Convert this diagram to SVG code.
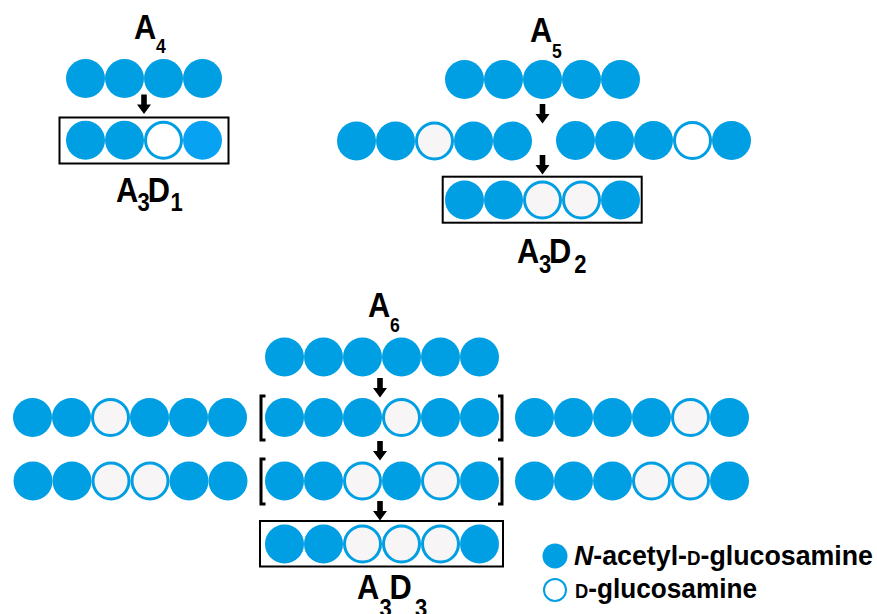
<svg xmlns="http://www.w3.org/2000/svg" width="877" height="614" viewBox="0 0 877 614">
<style>
.f{fill:#009FE3}
.b{fill:#08A2F2}
.o{fill:#F7F5F5;stroke:#009FE3;stroke-width:3}
.w{fill:#FFFFFF;stroke:#009FE3;stroke-width:3}
.box{fill:none;stroke:#000;stroke-width:2}
.br{fill:none;stroke:#000;stroke-width:3}
.lab{font-family:"Liberation Sans",Arial,sans-serif;font-size:35px;font-weight:bold;fill:#000}
.s1{font-size:20px}
.s2{font-size:25px}
.leg{font-family:"Liberation Sans",Arial,sans-serif;font-size:28.5px;font-weight:bold;fill:#000}
.arr{fill:#000}
</style>
<defs>
<path id="arrow" d="M-2.8,0 h5.6 v10 h4.2 l-7,9.5 l-7,-9.5 h4.2 z"/>
</defs>
<rect width="877" height="614" fill="#fff"/>

<!-- A4 -->
<g id="label-A4"><text class="lab" transform="translate(134,38.5) scale(0.88,1)">A<tspan class="s1" x="25" y="14.5">4</tspan></text></g>
<g id="chain-A4">
<circle class="f" cx="85.5" cy="78.5" r="19.5"/><circle class="f" cx="124.5" cy="78.5" r="19.5"/><circle class="f" cx="163.5" cy="78.5" r="19.5"/><circle class="f" cx="202.5" cy="78.5" r="19.5"/>
</g>
<g id="box-A3D1">
<rect class="box" x="59.5" y="117.5" width="169" height="46"/>
<circle class="f" cx="85.5" cy="140.3" r="19.5"/><circle class="f" cx="124.5" cy="140.3" r="19.5"/><circle class="w" cx="163.5" cy="140.3" r="18"/><circle class="b" cx="202.5" cy="140.3" r="19.5"/>
</g>
<g id="label-A3D1"><text class="lab" transform="translate(116,201.7) scale(0.88,1)">A<tspan class="s2" x="24.5" y="9">3</tspan><tspan x="36" y="0">D</tspan><tspan class="s2" x="62" y="9">1</tspan></text></g>

<!-- A5 -->
<g id="label-A5"><text class="lab" transform="translate(530,41.7) scale(0.88,1)">A<tspan class="s1" x="25" y="16">5</tspan></text></g>
<g id="chain-A5">
<circle class="f" cx="464.5" cy="79.5" r="19.5"/><circle class="f" cx="503.5" cy="79.5" r="19.5"/><circle class="f" cx="542.5" cy="79.5" r="19.5"/><circle class="f" cx="581.5" cy="79.5" r="19.5"/><circle class="f" cx="620.5" cy="79.5" r="19.5"/>
</g>
<g id="chain-A5-left">
<circle class="f" cx="356.5" cy="141" r="19.5"/><circle class="f" cx="395.5" cy="141" r="19.5"/><circle class="o" cx="434.5" cy="141" r="18"/><circle class="f" cx="473.5" cy="141" r="19.5"/><circle class="f" cx="512.5" cy="141" r="19.5"/>
</g>
<g id="chain-A5-right">
<circle class="f" cx="575.5" cy="140.5" r="19.5"/><circle class="f" cx="614.5" cy="140.5" r="19.5"/><circle class="f" cx="653.5" cy="140.5" r="19.5"/><circle class="w" cx="692.5" cy="140.5" r="18"/><circle class="f" cx="731.5" cy="140.5" r="19.5"/>
</g>
<g id="box-A3D2">
<rect class="box" x="442.7" y="176.7" width="199" height="46"/>
<circle class="f" cx="464.5" cy="200" r="19.5"/><circle class="f" cx="503.5" cy="200" r="19.5"/><circle class="o" cx="542.5" cy="200" r="18"/><circle class="o" cx="581.5" cy="200" r="18"/><circle class="f" cx="620.5" cy="200" r="19.5"/>
</g>
<g id="label-A3D2"><text class="lab" transform="translate(517,263) scale(0.88,1)">A<tspan class="s2" x="25" y="10">3</tspan><tspan x="36.5" y="0">D</tspan><tspan class="s2" x="65" y="10">2</tspan></text></g>

<!-- A6 -->
<g id="label-A6"><text class="lab" transform="translate(368,316.7) scale(0.88,1)">A<tspan class="s1" x="25" y="15">6</tspan></text></g>
<g id="chain-A6">
<circle class="f" cx="284.5" cy="357" r="19.5"/><circle class="f" cx="323.5" cy="357" r="19.5"/><circle class="f" cx="362.5" cy="357" r="19.5"/><circle class="f" cx="401.5" cy="357" r="19.5"/><circle class="f" cx="440.5" cy="357" r="19.5"/><circle class="f" cx="479.5" cy="357" r="19.5"/>
</g>
<g id="chain-row2-left">
<circle class="f" cx="32.5" cy="417.5" r="19.5"/><circle class="f" cx="71.5" cy="417.5" r="19.5"/><circle class="o" cx="110.5" cy="417.5" r="18"/><circle class="f" cx="149.5" cy="417.5" r="19.5"/><circle class="f" cx="188.5" cy="417.5" r="19.5"/><circle class="f" cx="227.5" cy="417.5" r="19.5"/>
</g>
<g id="chain-row2-mid">
<path class="br" d="M265.5,396 H261 V440 H265.5"/>
<circle class="f" cx="284.5" cy="417.5" r="19.5"/><circle class="f" cx="323.5" cy="417.5" r="19.5"/><circle class="f" cx="362.5" cy="417.5" r="19.5"/><circle class="o" cx="401.5" cy="417.5" r="18"/><circle class="f" cx="440.5" cy="417.5" r="19.5"/><circle class="f" cx="479.5" cy="417.5" r="19.5"/>
<path class="br" d="M498,396 H502 V440 H498"/>
</g>
<g id="chain-row2-right">
<circle class="f" cx="534.5" cy="417.5" r="19.5"/><circle class="f" cx="573.5" cy="417.5" r="19.5"/><circle class="f" cx="612.5" cy="417.5" r="19.5"/><circle class="f" cx="651.5" cy="417.5" r="19.5"/><circle class="o" cx="690.5" cy="417.5" r="18"/><circle class="f" cx="729.5" cy="417.5" r="19.5"/>
</g>
<g id="chain-row3-left">
<circle class="f" cx="33" cy="481" r="19.5"/><circle class="f" cx="72" cy="481" r="19.5"/><circle class="o" cx="111" cy="481" r="18"/><circle class="o" cx="150" cy="481" r="18"/><circle class="f" cx="189" cy="481" r="19.5"/><circle class="f" cx="228" cy="481" r="19.5"/>
</g>
<g id="chain-row3-mid">
<path class="br" d="M265.5,459 H261 V504 H265.5"/>
<circle class="f" cx="284.5" cy="481" r="19.5"/><circle class="f" cx="323.5" cy="481" r="19.5"/><circle class="o" cx="362.5" cy="481" r="18"/><circle class="f" cx="401.5" cy="481" r="19.5"/><circle class="o" cx="440.5" cy="481" r="18"/><circle class="f" cx="479.5" cy="481" r="19.5"/>
<path class="br" d="M498,459 H502 V504 H498"/>
</g>
<g id="chain-row3-right">
<circle class="f" cx="534.5" cy="481" r="19.5"/><circle class="f" cx="573.5" cy="481" r="19.5"/><circle class="f" cx="612.5" cy="481" r="19.5"/><circle class="o" cx="651.5" cy="481" r="18"/><circle class="o" cx="690.5" cy="481" r="18"/><circle class="f" cx="729.5" cy="481" r="19.5"/>
</g>
<g id="box-A3D3">
<rect class="box" x="260" y="521" width="243" height="45.5"/>
<circle class="f" cx="284.5" cy="544" r="19.5"/><circle class="f" cx="323.5" cy="544" r="19.5"/><circle class="o" cx="362.5" cy="544" r="18"/><circle class="o" cx="401.5" cy="544" r="18"/><circle class="o" cx="440.5" cy="544" r="18"/><circle class="f" cx="479.5" cy="544" r="19.5"/>
</g>
<g id="label-A3D3"><text class="lab" transform="translate(357,599) scale(0.88,1)">A<tspan class="s2" x="25.5" y="18">3</tspan><tspan x="37" y="0">D</tspan><tspan class="s2" x="66" y="18">3</tspan></text></g>

<!-- connectors -->
<g id="connectors" class="arr">
<use href="#arrow" x="144" y="94.5"/>
<use href="#arrow" x="542.5" y="104"/>
<use href="#arrow" x="542.5" y="155"/>
<use href="#arrow" x="380" y="378"/>
<use href="#arrow" x="380" y="441"/>
<use href="#arrow" x="380" y="501"/>
</g>

<!-- legend -->
<g id="legend">
<circle class="f" cx="555" cy="556" r="12.5"/>
<text class="leg" x="574" y="565" textLength="299" lengthAdjust="spacingAndGlyphs"><tspan font-style="italic">N</tspan>-acetyl-<tspan font-size="20">D</tspan>-glucosamine</text>
<circle cx="555" cy="590" r="11" fill="#fff" stroke="#009FE3" stroke-width="2"/>
<text class="leg" x="575" y="598" textLength="182" lengthAdjust="spacingAndGlyphs"><tspan font-size="20">D</tspan>-glucosamine</text>
</g>
</svg>
